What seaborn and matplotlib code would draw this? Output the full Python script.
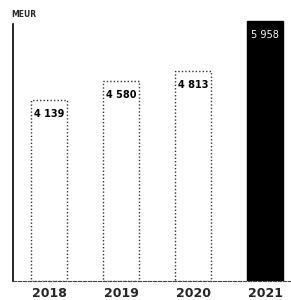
import matplotlib
matplotlib.use("Agg")
import matplotlib.pyplot as plt
import seaborn as sns
import pandas as pd

# values
years = ["2018", "2019", "2020", "2021"]
values = [4139, 4580, 4813, 5958]
labels = ["4 139", "4 580", "4 813", "5 958"]

df = pd.DataFrame({"year": years, "value": values})

sns.set_style("white")
plt.rcParams['font.family'] = ['DejaVu Sans']

fig = plt.figure(figsize=(2.91, 3.0), dpi=100)
ax = fig.add_axes([0.045, 0.063, 0.955, 0.874])

sns.barplot(data=df, x="year", y="value", ax=ax, width=0.5,
            color="white", edgecolor="black", linewidth=1.0)

# style bars: dotted outline for first three, solid black for last
for i, patch in enumerate(ax.patches):
    if i == len(years) - 1:
        patch.set_facecolor("black")
        patch.set_edgecolor("black")
    else:
        patch.set_linestyle((0, (1, 1.5)))
        patch.set_edgecolor("#333333")

# value labels near top of each bar
for i, (v, lab) in enumerate(zip(values, labels)):
    col = "white" if i == len(years) - 1 else "black"
    w = "normal" if i == len(years) - 1 else "bold"
    ax.text(i, v - 320, lab, ha="center", va="center", fontsize=7,
            fontweight=w, color=col)

ax.set_ylim(0, 6000)
ax.set_xlim(-0.5, 3.36)
ax.set_xlabel("")
ax.set_ylabel("")
ax.set_yticks([])
ax.tick_params(axis="x", length=0, pad=4, labelsize=9)
for t in ax.get_xticklabels():
    t.set_fontweight("bold")

sns.despine(ax=ax, top=True, right=True)
ax.spines["left"].set_color("black")
ax.spines["left"].set_linewidth(1.2)
ax.spines["left"].set_bounds(0, 5880)
ax.spines["bottom"].set_color("#444444")
ax.spines["bottom"].set_linestyle((0, (3, 1.5)))
ax.spines["bottom"].set_linewidth(0.8)

fig.text(0.04, 0.952, "MEUR", fontsize=5.5, fontweight="bold", ha="left", va="center")

fig.savefig("out.png", dpi=100)
